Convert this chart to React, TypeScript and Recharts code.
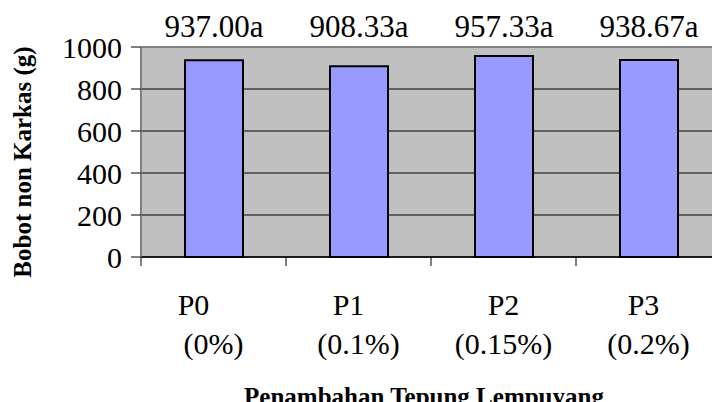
import React from 'react';
import {
  BarChart,
  Bar,
  XAxis,
  YAxis,
  CartesianGrid,
  ReferenceLine,
  LabelList,
} from 'recharts';

// treatments + dose of lempuyang flour
const CATEGORIES = ['P0', 'P1', 'P2', 'P3'];
const DOSES = ['(0%)', '(0.1%)', '(0.15%)', '(0.2%)'];
const WEIGHTS = [937.0, 908.33, 957.33, 938.67];
const NOTATION = ['a', 'a', 'a', 'a'];
const Y_TICKS = [0, 200, 400, 600, 800, 1000];

const data = CATEGORIES.map((name, i) => ({
  name,
  dose: DOSES[i],
  value: WEIGHTS[i],
  note: NOTATION[i],
}));

const FONT = '"Liberation Serif", "Times New Roman", serif';
const W = 730;
const H = 402;
const M = { top: 47, right: 9, bottom: 0, left: 0 };
const Y_AXIS_W = 141;
const X_AXIS_H = 145;
const PLOT_W = W - M.left - M.right - Y_AXIS_W;
const HALF_BAND = PLOT_W / CATEGORIES.length / 2;

// Excel wrapped the first line a bit left of centre
const TOP_LINE_SHIFT = [-20, -10, 0, -5];

const XTick = ({ x, y, payload, index }: any) => {
  const i = index ?? CATEGORIES.indexOf(payload.value);
  return (
    <g>
      <line x1={x - HALF_BAND} y1={y} x2={x - HALF_BAND} y2={y + 9} stroke="#000" strokeWidth={1} />
      {i === CATEGORIES.length - 1 && (
        <line x1={x + HALF_BAND} y1={y} x2={x + HALF_BAND} y2={y + 9} stroke="#000" strokeWidth={1} />
      )}
      <text x={x + (TOP_LINE_SHIFT[i] || 0)} y={y + 58} textAnchor="middle" fontFamily={FONT} fontSize={30} fill="#000">
        {payload.value}
      </text>
      <text x={x} y={y + 97} textAnchor="middle" fontFamily={FONT} fontSize={30} fill="#000">
        {DOSES[i]}
      </text>
    </g>
  );
};

const TopLabel = ({ x, width, index }: any) => (
  <text x={x + width / 2} y={37} textAnchor="middle" fontFamily={FONT} fontSize={31} fill="#000">
    {`${WEIGHTS[index].toFixed(2)}${NOTATION[index]}`}
  </text>
);

export default function App() {
  return (
    <div style={{ position: 'absolute', left: 0, top: 0, width: 712, height: 402, overflow: 'hidden', background: '#fff' }}>
      <BarChart width={W} height={H} data={data} margin={M}>
        <CartesianGrid vertical={false} stroke="#000" strokeWidth={1} fill="#C0C0C0" fillOpacity={1} />
        <XAxis
          dataKey="name"
          height={X_AXIS_H}
          tickSize={0}
          tickMargin={0}
          tickLine={false}
          axisLine={{ stroke: '#000', strokeWidth: 1.5 }}
          tick={<XTick />}
          interval={0}
        />
        <YAxis
          width={Y_AXIS_W}
          domain={[0, 1000]}
          ticks={Y_TICKS}
          interval={0}
          tickSize={10}
          tickMargin={9}
          tickLine={{ stroke: '#000' }}
          axisLine={{ stroke: '#808080', strokeWidth: 2 }}
          tick={{ fontFamily: FONT, fontSize: 30, fill: '#000' }}
        />
        <ReferenceLine y={1000} stroke="#808080" strokeWidth={2} />
        <Bar dataKey="value" barSize={58} fill="#9999FF" stroke="#000" strokeWidth={2} isAnimationActive={false}>
          <LabelList dataKey="value" content={<TopLabel />} />
        </Bar>
      </BarChart>
      <svg width={712} height={402} style={{ position: 'absolute', left: 0, top: 0, pointerEvents: 'none' }}>
        <text
          x={31}
          y={162}
          transform="rotate(-90 31 162)"
          textAnchor="middle"
          fontFamily={FONT}
          fontWeight="bold"
          fontSize={25}
          fill="#000"
        >
          Bobot non Karkas (g)
        </text>
        <text x={424} y={405} textAnchor="middle" fontFamily={FONT} fontWeight="bold" fontSize={25} fill="#000">
          Penambahan Tepung Lempuyang
        </text>
      </svg>
    </div>
  );
}
